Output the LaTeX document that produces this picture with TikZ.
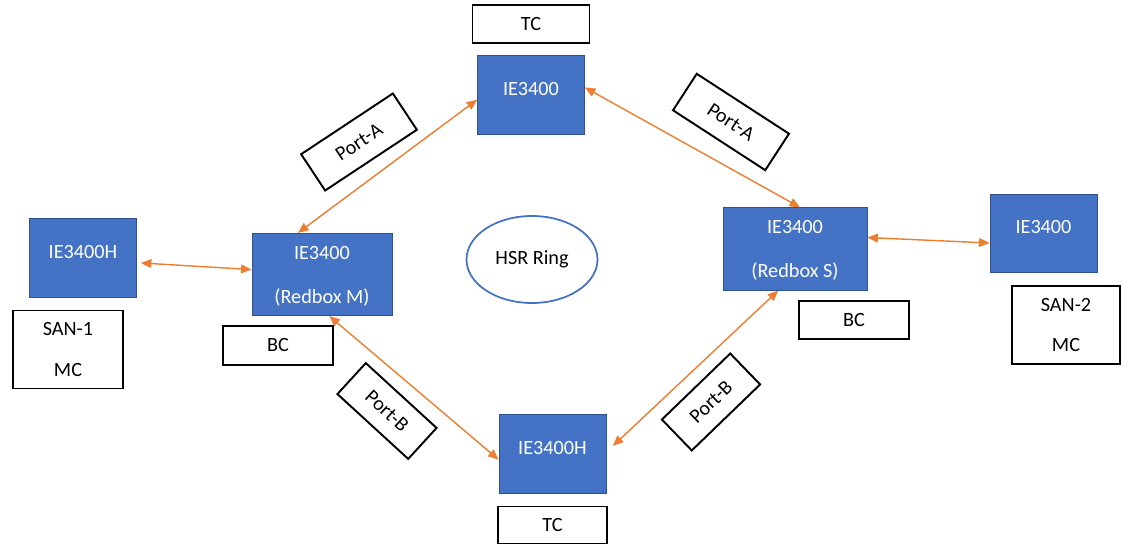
\documentclass[tikz,border=0pt]{standalone}
\usepackage{fontspec}
\setmainfont{Carlito}
\usetikzlibrary{arrows.meta,positioning,shapes.geometric}
\definecolor{swblue}{HTML}{4472C4}
\definecolor{swedge}{HTML}{2F528F}
\definecolor{linkorange}{HTML}{ED7D31}

\begin{document}
\begin{tikzpicture}[every node/.style={node distance=1.42cm,font=\fontsize{11.5}{14}\selectfont,inner sep=0pt},
    ieswitch/.style={draw=swedge,fill=swblue,text=white,minimum width=2.14cm,minimum height=1.57cm,text depth=0.26cm},
    redbox/.style={ieswitch,text depth=0pt,align=center,minimum width=2.8cm,minimum height=1.65cm,font=\fontsize{11.5}{25}\selectfont},
    tagbox/.style={draw,line width=1.1pt,minimum width=2.2cm,minimum height=0.77cm},
    sanbox/.style={tagbox,align=center,minimum height=1.56cm,font=\fontsize{11.5}{23.3}\selectfont},
    portbox/.style={draw,line width=1.1pt,minimum width=2.2cm,minimum height=0.87cm},
    hsrlink/.style={linkorange,line width=0.8pt,{Triangle[length=6pt,width=5pt]}-{Triangle[length=6pt,width=5pt]}}]

    \useasboundingbox (0,0) rectangle (22.46,10.88);

    \node[ieswitch] (TOP) at (10.62,8.98) {IE3400};
    \node[tagbox,minimum width=2.34cm] (TCTOP) [above of=TOP] {TC};
    \node[redbox] (REDM) at (6.44,5.39) {IE3400\\(Redbox M)};
    \node[tagbox] (BCM) [below of=REDM,xshift=-0.88cm] {BC};
    \node[redbox,minimum width=2.88cm] (REDS) at (15.90,5.90) {IE3400\\(Redbox S)};
    \node[tagbox] (BCS) [below of=REDS,xshift=1.18cm] {BC};
    \node[ieswitch] (SAN1) at (1.66,5.72) {IE3400H};
    \node[sanbox] (MC1) [below of=SAN1,xshift=-0.3cm,yshift=-0.41cm] {SAN-1\\MC};
    \node[ieswitch] (SAN2) at (20.87,6.21) {IE3400};
    \node[sanbox,minimum width=2.16cm] (MC2) [below of=SAN2,xshift=0.45cm,yshift=-0.41cm] {SAN-2\\MC};
    \node[ieswitch] (BOTTOM) at (11.05,1.80) {IE3400H};
    \node[tagbox,minimum width=2.18cm,minimum height=0.74cm] (TCBOT) [below of=BOTTOM] {TC};
    \node[ellipse,draw=swblue,line width=1pt,minimum width=2.62cm,minimum height=1.74cm] (RING) at (10.64,5.69) {HSR Ring};

    \node[portbox,rotate=33.5] (PAM) at (7.18,8.04) {Port-A};
    \node[portbox,rotate=-33] (PAS) at (14.62,8.44) {Port-A};
    \node[portbox,rotate=-42.5,minimum width=1.92cm,minimum height=0.84cm] (PBM) at (7.74,2.66) {Port-B};
    \node[portbox,rotate=44,minimum width=1.9cm,minimum height=0.86cm] (PBS) at (14.22,2.84) {Port-B};

    \draw[hsrlink] (TOP.185) -- (REDM.120);
    \draw[hsrlink] (TOP.8) -- (REDS.83);
    \draw[hsrlink,shorten <=0.08cm] (SAN1.355) -- (REDM.176);
    \draw[hsrlink] (REDS.9) -- (SAN2.190);
    \draw[hsrlink] (REDM.280) -- (BOTTOM.186);
    \draw[hsrlink,shorten >=0.18cm] (REDS.248) -- (BOTTOM.2);
  \end{tikzpicture}
\end{document}
